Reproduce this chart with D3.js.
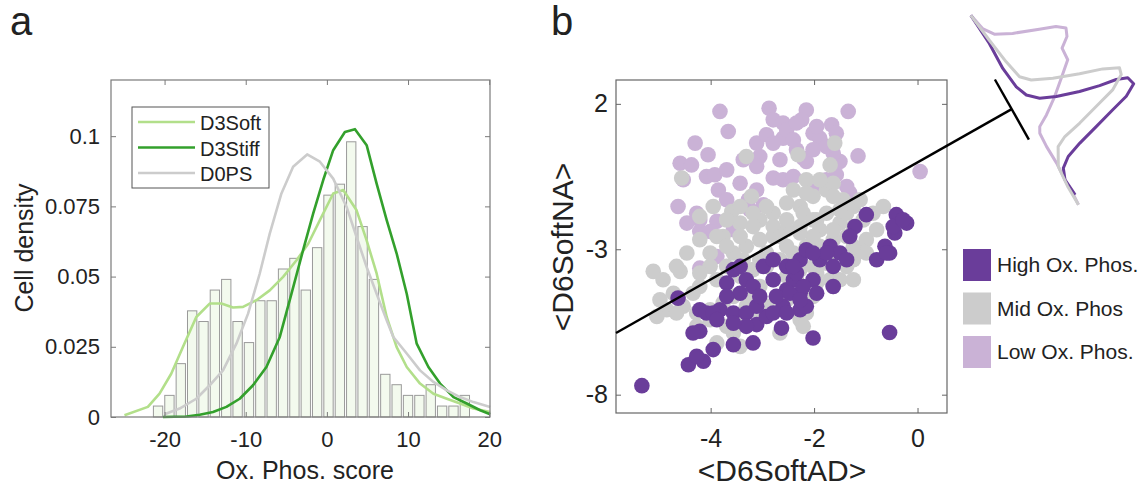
<!DOCTYPE html>
<html>
<head>
<meta charset="utf-8">
<script src="https://cdn.jsdelivr.net/npm/d3@7"></script>
<style>
  body { margin: 0; background: #fff; }
  svg text { font-family: "Liberation Sans", Arial, sans-serif; fill: #222; }
</style>
</head>
<body>
<div id="chart"></div>
<script>
// ---- panel a data ----
var binCenters = [-20.8, -19.4, -18.0, -16.6, -15.2, -13.8, -12.4, -11.0, -9.6, -8.2, -6.8, -5.4, -4.0, -2.6,
    -1.2, 0.2, 1.6, 3.0, 4.4, 5.8, 7.2, 8.6, 10.0, 11.4, 12.8, 14.2, 15.6, 17.0];
var binDensity = [0.0039, 0.0077, 0.019, 0.0378, 0.034, 0.0452, 0.049, 0.034, 0.0265, 0.0414, 0.0414, 0.0527, 0.0565, 0.0452,
    0.0603, 0.079, 0.0829, 0.098, 0.0678, 0.049, 0.0152, 0.0115, 0.0077, 0.0077, 0.0115, 0.0039, 0.0039, 0.0077];

var softX = [-24.94, -22.06, -20.62, -19.18, -17.74, -16.09, -14.44, -13.0, -11.57, -10.33, -8.68, -7.04, -5.39, -3.74, -2.3,
    -0.86, 0.78, 2.02, 3.66, 4.9, 6.13, 7.37, 8.6, 9.84, 11.48, 13.13, 14.78, 16.42, 18.06, 20.12];
var softY = [0.0006, 0.0036, 0.0083, 0.0154, 0.0249, 0.0356, 0.0404, 0.0404, 0.039, 0.0392, 0.0416, 0.0451, 0.0499, 0.0558, 0.0617,
    0.0701, 0.0796, 0.0808, 0.0736, 0.0629, 0.0511, 0.0356, 0.0249, 0.0178, 0.0119, 0.0083, 0.0065, 0.0048, 0.003, 0.0018];

var stiffX = [-20.2, -17.32, -15.68, -14.03, -12.38, -10.74, -9.1, -7.45, -5.8, -4.36, -2.93, -1.69, -0.46, 0.78, 2.22,
    3.46, 4.9, 6.13, 7.37, 8.6, 9.84, 11.07, 12.51, 13.95, 15.6, 17.24, 18.89, 20.12];
var stiffY = [0, 0.0002, 0.0008, 0.0018, 0.0036, 0.0065, 0.0113, 0.0178, 0.0285, 0.0439, 0.0594, 0.0724, 0.0843, 0.095, 0.1015,
    0.1025, 0.0968, 0.0831, 0.0701, 0.0582, 0.0439, 0.0261, 0.0178, 0.0119, 0.0071, 0.0048, 0.0024, 0.001];

var psX = [-20, -18.15, -16.09, -14.44, -12.8, -11.15, -9.71, -8.27, -7.04, -5.6, -4.16, -2.43, -0.86, 0.78, 2.43,
    3.66, 4.9, 6.13, 7.37, 8.19, 9.84, 11.48, 13.13, 14.78, 16.42, 18.06, 20.12];
var psY = [0.001, 0.003, 0.0065, 0.0113, 0.0166, 0.0261, 0.0368, 0.0511, 0.0653, 0.0796, 0.0891, 0.0935, 0.0909, 0.0849, 0.0748,
    0.0641, 0.0534, 0.0439, 0.0344, 0.0285, 0.0226, 0.0166, 0.0125, 0.0095, 0.0071, 0.0053, 0.0036];

var seriesNames = ["D3Soft", "D3Stiff", "D0PS"];
var xTicksA = [-20, -10, 0, 10, 20];
var yTicksA = [0, 0.025, 0.05, 0.075, 0.1];

// ---- panel b data ----
var lowX = [-3.82, -2.87, -2.15, -1.34, -3.66, -2.79, -2.60, -2.24, -1.66, -4.30, -4.05, -4.59, -4.37, -3.11, -2.92, -2.60,
    -2.34, -2.02, -1.89, -1.15, 0.05, -4.08, -3.92, -3.85, -3.43, -2.79, -2.60, -2.40, -2.15, -2.08, -1.57, -1.31, -4.63,
    -3.88, -4.21, -3.27, -2.98, -2.66, -3.05, -2.21, -4.21, -3.88, -3.24, -1.50, -1.63, -1.89,
    -3.37, -3.11, -2.53, -2.34, -1.95, -1.76, -1.57, -3.69, -4.53, -4.46, -4.21, -3.56, -2.79, -2.40, -2.02, -1.76,
    -1.37, -3.11, -3.69, -4.01, -4.27];
var lowY = [1.74, 1.85, 1.79, 1.74, 1.05, 1.45, 1.34, 1.45, 1.28, 0.65, 0.25, -0.04, -0.10, 0.65, 0.94, 0.82,
    0.42, 0.99, 0.82, 0.21, -0.33, -0.50, -0.44, -0.96, -0.73, -0.55, -0.61, -0.50, 0.02, -0.96, -0.44, -1.07, -1.53,
    -2.04, -2.39, -1.30, -1.47, 0.08, 0.19, 0.13, -3.65, -3.25, -1.64, 0.02, 0.30, -0.84,
    0.08, -0.15, 1.11, 1.34, 1.22, 0.53, 0.99, -0.27, -0.61, -2.10, -1.99, -2.33, 0.65, 0.76, 0.42, -0.61,
    -0.84, -0.96, -1.30, -2.39, -1.76];

var midX = [-1.60, -3.31, -2.31, -4.56, -2.15, -1.69, -3.21, -3.59, -4.21, -5.11, -4.59, -4.01, -3.76, -3.43, -3.05, -2.79,
    -2.53, -2.27, -2.02, -1.76, -1.63, -1.44, -1.24, -1.05, -0.99, -0.66, -1.24, -1.50, -1.95, -2.27, -2.53, -2.79, -3.05,
    -3.31, -3.56, -3.69, -3.88, -4.21, -4.34, -4.53, -4.85, -5.04, -4.66, -4.27, -4.01, -3.76, -3.56, -3.31, -3.05, -2.79,
    -2.53, -2.27, -2.02, -1.76, -1.50, -1.63, -1.95, -2.21, -2.53, -2.73, -3.05, -3.43, -3.69, -3.56, -3.88, -2.27, -2.02,
    -1.24, -1.11, -1.63, -1.89, -2.15, -2.40, -2.66, -2.92, -3.18, -3.43, -3.11, -2.66, -2.21, -2.15, -2.92, -3.18, -2.21,
    -2.53, -2.79, -2.92, -3.43, -3.31, -4.01, -4.27, -2.34, -1.63, -1.37, -1.89,
    -3.95, -3.69, -3.88, -4.21, -4.46, -4.66, -4.92, -3.43, -3.18, -2.92, -2.40, -2.15, -1.89, -1.63, -1.37, -1.11,
    -0.86, -0.79, -0.99, -1.24, -1.63, -2.02, -2.53, -3.05, -3.37, -3.69, -4.01, -4.21, -4.72, -4.98, -2.27, -2.66,
    -1.76, -2.02, -1.50, -3.43, -1.37, -1.24, -1.69, -1.95];
var midY = [0.65, 0.19, 0.25, -0.55, -0.61, -0.10, -1.18, -1.70, -1.87, -3.76, -3.76, -3.13, -2.56, -2.10, -1.99, -1.76,
    -1.41, -1.53, -1.18, -0.96, -0.73, -1.30, -1.53, -1.99, -2.67, -1.53, -2.22, -2.10, -1.99, -2.22, -2.33, -2.56, -2.67,
    -2.90, -3.13, -3.59, -4.05, -4.28, -4.51, -4.96, -5.08, -5.31, -5.19, -5.19, -5.08, -4.85, -4.62, -4.51, -4.28, -4.05,
    -3.93, -3.70, -3.59, -3.48, -4.05, -4.28, -4.16, -4.51, -4.74, -5.08, -5.19, -5.42, -5.65, -5.88, -6.22, -5.42, -4.62,
    -3.36, -3.02, -2.67, -2.90, -2.90, -3.13, -3.36, -3.59, -3.70, -3.93, -4.74, -5.88, -5.65, -5.19, -3.13, -2.22, -1.76,
    -1.99, -2.22, -4.96, -6.34, -4.96, -5.42, -5.65, -4.05, -3.13, -2.56, -2.33,
    -1.53, -1.99, -2.56, -2.67, -3.13, -3.59, -4.05, -2.56, -1.76, -1.53, -0.96, -1.07, -0.61, -1.18, -1.76, -1.30,
    -1.76, -2.33, -3.13, -2.90, -2.33, -2.56, -2.90, -3.36, -3.36, -2.90, -3.59, -3.82, -4.51, -4.74, -2.44, -2.56,
    -1.76, -1.99, -1.64, -1.53, -3.59, -4.05, -4.05, -3.82];

var highX = [-5.33, -4.43, -4.14, -3.95, -3.56, -3.18, -2.63, -2.02, -0.54, -4.21, -4.63, -4.21, -4.08, -3.82, -3.56, -3.31,
    -3.11, -2.92, -2.60, -2.27, -2.15, -2.27, -2.53, -2.79, -2.98, -3.31, -3.43, -3.56, -3.43, -3.69, -2.53, -2.27, -2.15,
    -1.69, -1.50, -1.37, -1.63, -2.02, -1.95, -0.99, -0.41, -0.21, -0.44, -0.63, -0.79, -0.54, -1.21, -1.31, -1.63, -2.40,
    -3.95, -3.11, -2.73, -2.47, -2.21, -2.34, -1.89, -2.79,
    -0.47, -0.28, -0.60, -1.76, -2.02, -2.40, -3.18, -3.05, -3.69, -3.88, -4.34, -3.31, -2.79, -2.53, -2.27, -3.56, -4.27];
var highY = [-7.69, -6.97, -6.85, -6.45, -6.28, -6.22, -5.71, -6.05, -5.86, -5.82, -4.68, -5.08, -5.19, -5.08, -5.19, -5.19,
    -5.59, -5.31, -4.96, -5.08, -4.96, -4.51, -4.39, -4.05, -3.59, -4.05, -4.51, -3.70, -3.59, -4.16, -3.59, -3.36, -3.02,
    -2.90, -3.13, -3.36, -3.59, -4.05, -4.51, -1.81, -1.81, -2.10, -2.44, -2.90, -3.36, -3.13, -2.22, -2.56, -4.28, -4.05,
    -5.19, -4.96, -4.62, -4.51, -4.28, -3.82, -3.36, -3.36,
    -2.22, -1.99, -3.13, -3.13, -3.13, -3.59, -4.28, -4.62, -4.62, -5.42, -5.88, -5.65, -5.19, -5.19, -4.74, -5.54, -6.68];

var lineX = [-5.83, 1.82];
var lineY = [-5.88, 1.82];

var groupNames = ["High Ox. Phos.", "Mid Ox. Phos", "Low Ox. Phos."];
var xTicksB = [-4, -2, 0];
var yTicksB = [2, -3, -8];

// projected distributions drawn at the end of the line (position along bar, height)
var insetLowS = [0, 17.3, 28.0, 36.3, 45.8, 51.7, 58.0, 65.8, 73.5, 86.4, 99.2, 112.0, 123.9, 130.8, 136.6, 151.6, 170.9, 189.6, 206.7, 217.9];
var insetLowH = [0, 3.6, 11.1, 27.4, 52.7, 68.5, 76.5, 73.2, 63.2, 62.4, 47.7, 32.9, 16.7, 5.1, 1.9, 1.2, 1.8, 0.9, 0.9, 0.3];
var insetMidS = [0, 30.8, 57.9, 77.4, 86.0, 95.1, 104.4, 111.6, 118.9, 125.6, 134.6, 141.0, 147.4, 151.8, 157.2, 174.7, 196.3, 217.9];
var insetMidH = [0, 3.8, 7.8, 12.1, 20.7, 40.4, 65.8, 88.4, 103.5, 101.7, 87.0, 64.4, 41.7, 22.1, 11.3, 1.6, 0, 0.3];
var insetHighS = [0, 33.6, 62.0, 84.6, 96.7, 106.1, 112.8, 119.8, 124.6, 127.5, 131.7, 139.7, 147.0, 152.0, 158.5, 164.9, 170.8, 178.5, 189.6, 201.6, 207.6];
var insetHighH = [0, 2.2, 1.6, 4.3, 9.0, 19.0, 34.3, 57.1, 77.4, 94.9, 105.8, 108.0, 95.4, 77.3, 54.6, 31.9, 15.2, 5.2, 0.9, 1.9, 2.3];

var green = {soft: "#b2df8a", stiff: "#33a02c", ps: "#cccccc"};
var purple = {high: "#6a3d9a", mid: "#cccccc", low: "#cab2d6"};

var svg = d3.select("#chart").append("svg")
    .attr("width", 1148)
    .attr("height", 487);

function zip(xs, ys) {
    return xs.map(function (x, i) { return [x, ys[i]]; });
}

function plain(d) {
    return String(d);
}

function styleAxis(g, color, size) {
    g.select(".domain").remove();
    g.selectAll(".tick line").attr("stroke", color);
    g.selectAll(".tick text").attr("font-size", size).style("fill", "#222");
}

// ================= panel a =================
var marginA = {left: 111, right: 490, top: 80, bottom: 417};
var xA = d3.scaleLinear().domain([-26.6, 20.1]).range([marginA.left, marginA.right]);
var yA = d3.scaleLinear().domain([0, 0.12]).range([marginA.bottom, marginA.top]);

var gA = svg.append("g").attr("class", "panelA");

gA.selectAll(".bar")
    .data(binCenters)
    .enter()
    .append("rect")
    .attr("class", "bar")
    .attr("x", function (d) { return xA(d - 0.575); })
    .attr("width", function (d) { return xA(d + 0.575) - xA(d - 0.575); })
    .attr("y", function (d, i) { return yA(binDensity[i]); })
    .attr("height", function (d, i) { return yA(0) - yA(binDensity[i]); })
    .attr("fill", "#f3faee")
    .attr("stroke", "#9a9a9a")
    .attr("stroke-width", 1);

var lineA = d3.line()
    .x(function (d) { return xA(d[0]); })
    .y(function (d) { return yA(d[1]); });

var curvesA = [
    {name: seriesNames[0], pts: zip(softX, softY), color: green.soft},
    {name: seriesNames[1], pts: zip(stiffX, stiffY), color: green.stiff},
    {name: seriesNames[2], pts: zip(psX, psY), color: green.ps}
];

gA.selectAll(".curve")
    .data(curvesA)
    .enter()
    .append("path")
    .attr("class", "curve")
    .attr("d", function (d) { return lineA(d.pts); })
    .attr("fill", "none")
    .attr("stroke", function (d) { return d.color; })
    .attr("stroke-width", 2.6)
    .attr("stroke-linejoin", "round");

gA.append("rect")
    .attr("x", marginA.left).attr("y", marginA.top)
    .attr("width", marginA.right - marginA.left)
    .attr("height", marginA.bottom - marginA.top)
    .attr("fill", "none")
    .attr("stroke", "#7a7a7a")
    .attr("stroke-width", 1.2);

gA.append("g")
    .attr("transform", "translate(0," + marginA.bottom + ")")
    .call(d3.axisBottom(xA).tickValues(xTicksA).tickSize(-5).tickPadding(14).tickFormat(plain))
    .call(styleAxis, "#7a7a7a", 22);
gA.append("g")
    .attr("transform", "translate(0," + marginA.top + ")")
    .call(d3.axisTop(xA).tickValues(xTicksA).tickSize(-5).tickFormat(""))
    .call(styleAxis, "#7a7a7a", 22);
gA.append("g")
    .attr("transform", "translate(" + marginA.left + ",0)")
    .call(d3.axisLeft(yA).tickValues(yTicksA).tickSize(-5).tickPadding(11).tickFormat(plain))
    .call(styleAxis, "#7a7a7a", 22);
gA.append("g")
    .attr("transform", "translate(" + marginA.right + ",0)")
    .call(d3.axisRight(yA).tickValues(yTicksA).tickSize(-5).tickFormat(""))
    .call(styleAxis, "#7a7a7a", 22);

gA.append("text")
    .attr("x", 305).attr("y", 479)
    .attr("text-anchor", "middle")
    .attr("font-size", 25)
    .text("Ox. Phos. score");
gA.append("text")
    .attr("transform", "translate(33,248) rotate(-90)")
    .attr("text-anchor", "middle")
    .attr("font-size", 25)
    .text("Cell density");

// legend a
var legA = gA.append("g").attr("transform", "translate(132,107)");
legA.append("rect")
    .attr("width", 137).attr("height", 81)
    .attr("fill", "#fff")
    .attr("stroke", "#555")
    .attr("stroke-width", 1);
var legItemA = legA.selectAll(".item")
    .data(curvesA)
    .enter()
    .append("g")
    .attr("class", "item")
    .attr("transform", function (d, i) { return "translate(0," + (15 + i * 25.5) + ")"; });
legItemA.append("line")
    .attr("x1", 6).attr("x2", 63)
    .attr("stroke", function (d) { return d.color; })
    .attr("stroke-width", 2.6);
legItemA.append("text")
    .attr("x", 68).attr("y", 8)
    .attr("font-size", 20)
    .text(function (d) { return d.name; });

// ================= panel b =================
var marginB = {left: 616, right: 947, top: 80, bottom: 413};
var xB = d3.scaleLinear().domain([-5.83, 0.57]).range([marginB.left, marginB.right]);
var yB = d3.scaleLinear().domain([-8.63, 2.82]).range([marginB.bottom, marginB.top]);

var gB = svg.append("g").attr("class", "panelB");

var groups = [
    {pts: zip(lowX, lowY), color: purple.low},
    {pts: zip(midX, midY), color: purple.mid},
    {pts: zip(highX, highY), color: purple.high}
];

var dots = gB.append("g");
groups.forEach(function (grp) {
    dots.selectAll(null)
        .data(grp.pts)
        .enter()
        .append("circle")
        .attr("cx", function (d) { return xB(d[0]); })
        .attr("cy", function (d) { return yB(d[1]); })
        .attr("r", 7.8)
        .attr("fill", grp.color);
});

gB.append("rect")
    .attr("x", marginB.left).attr("y", marginB.top)
    .attr("width", marginB.right - marginB.left)
    .attr("height", marginB.bottom - marginB.top)
    .attr("fill", "none")
    .attr("stroke", "#666")
    .attr("stroke-width", 1.2);

gB.append("g")
    .attr("transform", "translate(0," + marginB.bottom + ")")
    .call(d3.axisBottom(xB).tickValues(xTicksB).tickSize(-5).tickPadding(16).tickFormat(plain))
    .call(styleAxis, "#666", 25);
gB.append("g")
    .attr("transform", "translate(0," + marginB.top + ")")
    .call(d3.axisTop(xB).tickValues(xTicksB).tickSize(-5).tickFormat(""))
    .call(styleAxis, "#666", 25);
gB.append("g")
    .attr("transform", "translate(" + marginB.left + ",0)")
    .call(d3.axisLeft(yB).tickValues(yTicksB).tickSize(-5).tickPadding(8).tickFormat(plain))
    .call(styleAxis, "#666", 25);
gB.append("g")
    .attr("transform", "translate(" + marginB.right + ",0)")
    .call(d3.axisRight(yB).tickValues(yTicksB).tickSize(-5).tickFormat(""))
    .call(styleAxis, "#666", 25);

gB.append("text")
    .attr("x", 782).attr("y", 481)
    .attr("text-anchor", "middle")
    .attr("font-size", 30)
    .text("<D6SoftAD>");
gB.append("text")
    .attr("transform", "translate(573,247) rotate(-90)")
    .attr("text-anchor", "middle")
    .attr("font-size", 30)
    .text("<D6SoftNA>");

// separating line and its end bar
var p0 = [xB(lineX[0]), yB(lineY[0])];
var p1 = [xB(lineX[1]), yB(lineY[1])];
gB.append("line")
    .attr("x1", p0[0]).attr("y1", p0[1])
    .attr("x2", p1[0]).attr("y2", p1[1])
    .attr("stroke", "#000")
    .attr("stroke-width", 2.4);

var len = Math.hypot(p1[0] - p0[0], p1[1] - p0[1]);
var dir = [(p1[0] - p0[0]) / len, (p1[1] - p0[1]) / len];
var perp = [-dir[1], dir[0]];
gB.append("line")
    .attr("x1", p1[0] - perp[0] * 34).attr("y1", p1[1] - perp[1] * 34)
    .attr("x2", p1[0] + perp[0] * 35).attr("y2", p1[1] + perp[1] * 35)
    .attr("stroke", "#000")
    .attr("stroke-width", 2.4);

// projected densities, baseline parallel to the end bar
var angle = Math.atan2(perp[1], perp[0]) * 180 / Math.PI;
var ox = p1[0] - perp[0] * 101.7 + dir[0] * 10.7;
var oy = p1[1] - perp[1] * 101.7 + dir[1] * 10.7;
var inset = gB.append("g")
    .attr("transform", "translate(" + ox + "," + oy + ") rotate(" + angle + ")");
var sScale = d3.scaleLinear().domain([0, 218]).range([0, 218]);
var hScale = d3.scaleLinear().domain([0, 110]).range([0, -110]);
var insetLine = d3.line()
    .x(function (d) { return sScale(d[0]); })
    .y(function (d) { return hScale(d[1]); });
[
    {pts: zip(insetLowS, insetLowH), color: purple.low},
    {pts: zip(insetHighS, insetHighH), color: purple.high},
    {pts: zip(insetMidS, insetMidH), color: purple.mid}
].forEach(function (c) {
    inset.append("path")
        .attr("d", insetLine(c.pts))
        .attr("fill", "none")
        .attr("stroke", c.color)
        .attr("stroke-width", 3)
        .attr("stroke-linejoin", "round");
});

// legend b
var legB = gB.append("g").attr("transform", "translate(963,249)");
var legItemB = legB.selectAll(".item")
    .data(groupNames)
    .enter()
    .append("g")
    .attr("class", "item")
    .attr("transform", function (d, i) { return "translate(0," + (i * 43.5) + ")"; });
legItemB.append("rect")
    .attr("width", 28).attr("height", 32)
    .attr("fill", function (d, i) { return [purple.high, purple.mid, purple.low][i]; });
legItemB.append("text")
    .attr("x", 34).attr("y", 23)
    .attr("font-size", 21)
    .text(function (d) { return d; });

// panel letters
svg.append("text").attr("x", 10).attr("y", 35).attr("font-size", 40).text("a");
svg.append("text").attr("x", 551).attr("y", 35).attr("font-size", 40).text("b");
</script>
</body>
</html>
